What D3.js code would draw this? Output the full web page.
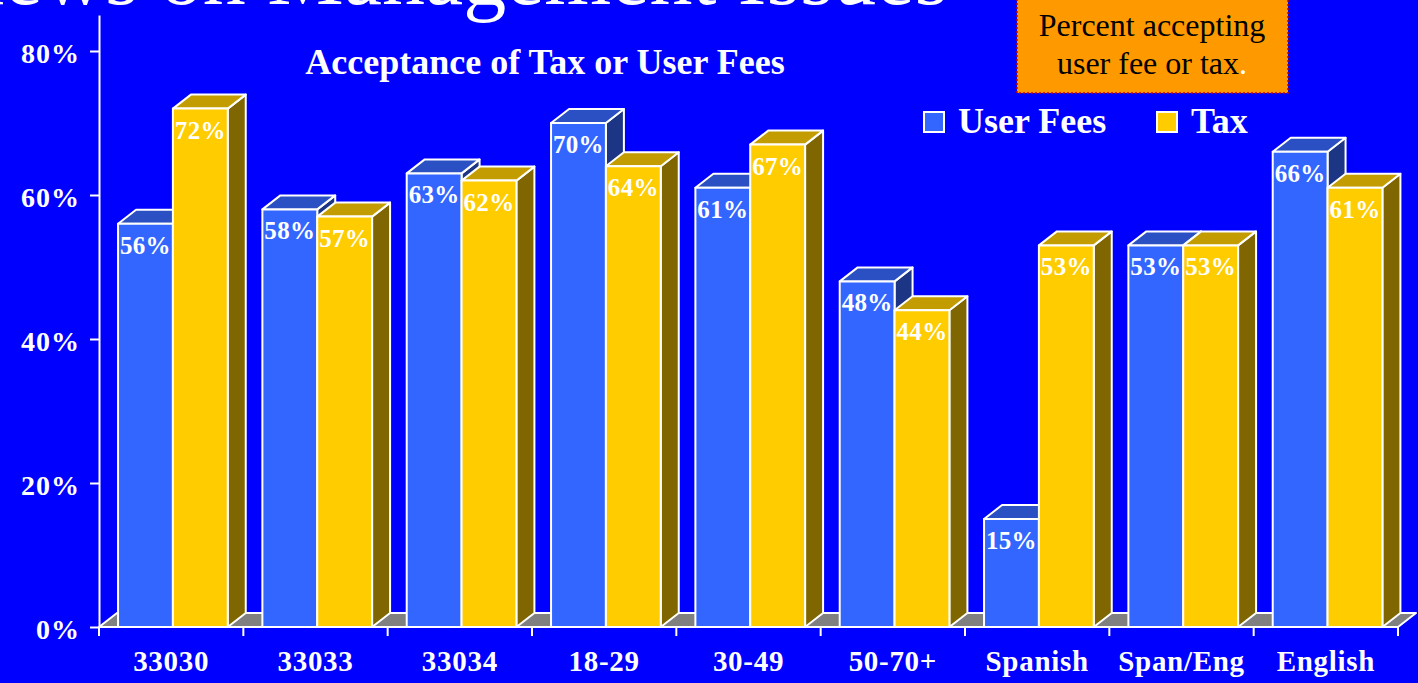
<!DOCTYPE html>
<html><head><meta charset="utf-8">
<script src="https://cdn.jsdelivr.net/npm/d3@7"></script>
<style>
html,body{margin:0;padding:0;background:#0000FF;overflow:hidden}
svg{display:block}
</style></head>
<body>
<svg id="chart" width="1418" height="683"></svg>
<script>
// ---- data ----
const categories = ["33030","33033","33034","18-29","30-49","50-70+","Spanish","Span/Eng","English"];
const userFees = [56,58,63,70,61,48,15,53,66];
const tax      = [72,57,62,64,67,44,53,53,61];
const seriesNames = ["User Fees","Tax"];
const yTicks = [0,20,40,60,80];

const FONT = '"Liberation Serif","Times New Roman",serif';
const W = 1418, H = 683;
const svg = d3.select("#chart");
svg.append("rect").attr("width",W).attr("height",H).attr("fill","#0000FF");

const x0 = 99, x1 = 1398, yBase = 627;
const x = d3.scaleBand().domain(categories).range([x0,x1]).padding(0);
const y = d3.scaleLinear().domain([0,85]).range([yBase,15]);
const step = x.step();
const inner = d3.scaleBand().domain(seriesNames).range([0.132*step, 0.132*step + 0.76*step]).padding(0);
const DX = 18, DY = -14;

const colors = {
  "User Fees": {front:"#3366FF", top:"#2A50C4", side:"#1C3584"},
  "Tax":       {front:"#FFCC00", top:"#C29C00", side:"#806600"}
};

// big slide title (cut off at top, as in the source slide)
svg.append("text").attr("x",948).attr("y",4).attr("text-anchor","end")
  .attr("font-family",FONT).attr("font-size",86).attr("fill","#fff")
  .text("Views on Management Issues");

// floor
svg.append("path")
  .attr("d",`M${x0},${yBase} L${x0+DX},${yBase+DY} L${x1+DX},${yBase+DY} L${x1},${yBase} Z`)
  .attr("fill","#808080").attr("stroke","#fff").attr("stroke-width",2).attr("stroke-linejoin","round");

// y axis
const yAxis = d3.axisLeft(y).tickValues(yTicks).tickSize(9).tickSizeOuter(0).tickFormat(d=>d+"%");
const gy = svg.append("g").attr("transform",`translate(${x0},0)`).call(yAxis);
gy.select(".domain").attr("stroke","#fff").attr("stroke-width",2);
gy.selectAll(".tick line").attr("stroke","#fff").attr("stroke-width",2);
gy.selectAll(".tick text").attr("x",-19).attr("dy",null).attr("y",11)
  .attr("fill","#fff").attr("font-family",FONT).attr("font-size",28).attr("font-weight","bold")
  .attr("letter-spacing",1);

// bars
const data = categories.map((c,i)=>({cat:c, vals:[{s:"User Fees",v:userFees[i]},{s:"Tax",v:tax[i]}]}));
const groups = svg.append("g").selectAll("g").data(data).join("g")
  .attr("transform",d=>`translate(${x(d.cat)},0)`);
groups.each(function(d){
  const g = d3.select(this);
  d.vals.forEach(b=>{
    const bx = inner(b.s), bw = inner.bandwidth();
    const top = y(b.v), c = colors[b.s];
    const bg = g.append("g").attr("stroke","#fff").attr("stroke-width",2).attr("stroke-linejoin","round");
    bg.append("path").attr("d",`M${bx+bw},${yBase} L${bx+bw+DX},${yBase+DY} L${bx+bw+DX},${top+DY} L${bx+bw},${top} Z`).attr("fill",c.side);
    bg.append("path").attr("d",`M${bx},${top} L${bx+DX},${top+DY} L${bx+bw+DX},${top+DY} L${bx+bw},${top} Z`).attr("fill",c.top);
    bg.append("rect").attr("x",bx).attr("y",top).attr("width",bw).attr("height",yBase-top).attr("fill",c.front);
    g.append("text").attr("x",bx+bw/2).attr("y",top+30).attr("text-anchor","middle")
      .attr("fill","#fff").attr("font-family",FONT).attr("font-size",25).attr("font-weight","bold")
      .attr("letter-spacing",0.3).text(b.v+"%");
  });
});

// x axis
svg.append("line").attr("x1",x0).attr("x2",x1).attr("y1",yBase).attr("y2",yBase)
  .attr("stroke","#fff").attr("stroke-width",2);
const bounds = categories.map(c=>x(c)).concat([x1]);
svg.append("g").selectAll("line").data(bounds).join("line")
  .attr("x1",d=>d).attr("x2",d=>d).attr("y1",yBase).attr("y2",yBase+9)
  .attr("stroke","#fff").attr("stroke-width",2);
const xAxis = d3.axisBottom(x).tickSize(0).tickSizeOuter(0);
const gx = svg.append("g").attr("transform",`translate(0,${yBase})`).call(xAxis);
gx.select(".domain").remove();
gx.selectAll(".tick text").attr("y",44).attr("dy",null)
  .attr("fill","#fff").attr("font-family",FONT).attr("font-size",29).attr("font-weight","bold")
  .attr("letter-spacing",0.7);

// chart title
svg.append("text").attr("x",545).attr("y",74).attr("text-anchor","middle")
  .attr("fill","#fff").attr("font-family",FONT).attr("font-size",36).attr("font-weight","bold")
  .text("Acceptance of Tax or User Fees");

// annotation box
svg.append("rect").attr("x",1017).attr("y",-5).attr("width",271).attr("height",98)
  .attr("fill","#FF9900").attr("stroke","#CC0000").attr("stroke-width",1.5).attr("stroke-dasharray","2,2");
const note = svg.append("text").attr("text-anchor","middle").attr("font-family",FONT).attr("font-size",32).attr("fill","#000");
note.append("tspan").attr("x",1152).attr("y",36).text("Percent accepting");
const l2 = note.append("tspan").attr("x",1152).attr("y",74);
l2.append("tspan").text("user fee or tax");
l2.append("tspan").attr("fill","#fff").text(".");

// legend
const legX = [924, 1157];
const leg = svg.append("g").selectAll("g").data(seriesNames).join("g")
  .attr("transform",(d,i)=>`translate(${legX[i]},112)`);
leg.append("rect").attr("width",20).attr("height",20).attr("fill",d=>colors[d].front)
  .attr("stroke","#fff").attr("stroke-width",2);
leg.append("text").attr("x",34).attr("y",21).attr("fill","#fff").attr("font-family",FONT)
  .attr("font-size",36).attr("font-weight","bold").text(d=>d);
</script>
</body></html>
